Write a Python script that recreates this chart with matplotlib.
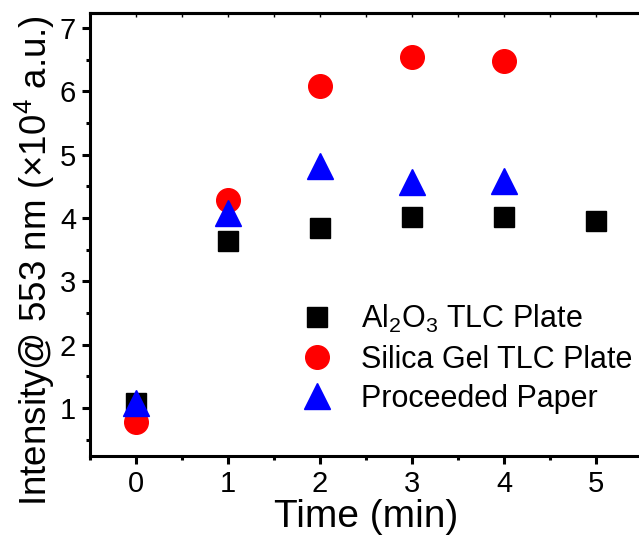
import matplotlib
matplotlib.use("Agg")
import matplotlib.pyplot as plt
from matplotlib.ticker import MultipleLocator

plt.rcParams['font.family'] = ['Liberation Sans', 'DejaVu Sans']
plt.rcParams['mathtext.fontset'] = 'custom'
plt.rcParams['mathtext.rm'] = 'Liberation Sans'
plt.rcParams['mathtext.it'] = 'Liberation Sans:italic'

# data
time_al = [0, 1, 2, 3, 4, 5]
al2o3 = [1.08, 3.64, 3.85, 4.02, 4.02, 3.95]

time_si = [0, 1, 2, 3, 4]
silica = [0.77, 4.28, 6.08, 6.55, 6.48]

time_pp = [0, 1, 2, 3, 4]
paper = [1.08, 4.08, 4.82, 4.57, 4.58]

fig = plt.figure(figsize=(6.39, 5.37), dpi=100)
ax = fig.add_axes([90 / 639, 1 - 456 / 537, (642 - 90) / 639, (456 - 13) / 537])

ax.plot(time_al, al2o3, 's', color='black', ms=15, label='Al$_2$O$_3$ TLC Plate')
ax.plot(time_si, silica, 'o', color='red', ms=17, label='Silica Gel TLC Plate')
ax.plot(time_pp, paper, '^', color='blue', ms=19, label='Proceeded Paper')

ax.set_xlim(-0.5, 5.5)
ax.set_ylim(0.24, 7.24)
ax.xaxis.set_major_locator(MultipleLocator(1))
ax.xaxis.set_minor_locator(MultipleLocator(0.5))
ax.yaxis.set_major_locator(MultipleLocator(1))
ax.yaxis.set_minor_locator(MultipleLocator(0.5))

ax.spines['right'].set_visible(False)
for s in ['left', 'bottom', 'top']:
    ax.spines[s].set_linewidth(2.2)

ax.tick_params(axis='both', which='major', direction='out', length=6, width=2.2,
               labelsize=21, pad=4)
ax.tick_params(axis='both', which='minor', direction='out', length=3, width=2.2)

# small inward ticks on the top spine
top = ax.secondary_xaxis('top')
top.xaxis.set_major_locator(MultipleLocator(1))
top.xaxis.set_minor_locator(MultipleLocator(0.5))
top.tick_params(which='both', direction='in', length=3, width=1, labeltop=False)
top.spines['top'].set_linewidth(2.2)

ax.set_xlabel('Time (min)', fontsize=28, labelpad=1)
ax.set_ylabel('Intensity@ 553 nm ($\\times$10$^4$ a.u.)', fontsize=26.5)
ax.yaxis.set_label_coords(-0.059, 0.441)

ax.legend(loc='lower left', bbox_to_anchor=((299 - 90) / 552, (456 - 414) / 443),
          frameon=False, fontsize=22, handletextpad=0.84, labelspacing=0.31,
          borderaxespad=0, borderpad=0, handlelength=1.2)

fig.savefig('out.png', dpi=100)
